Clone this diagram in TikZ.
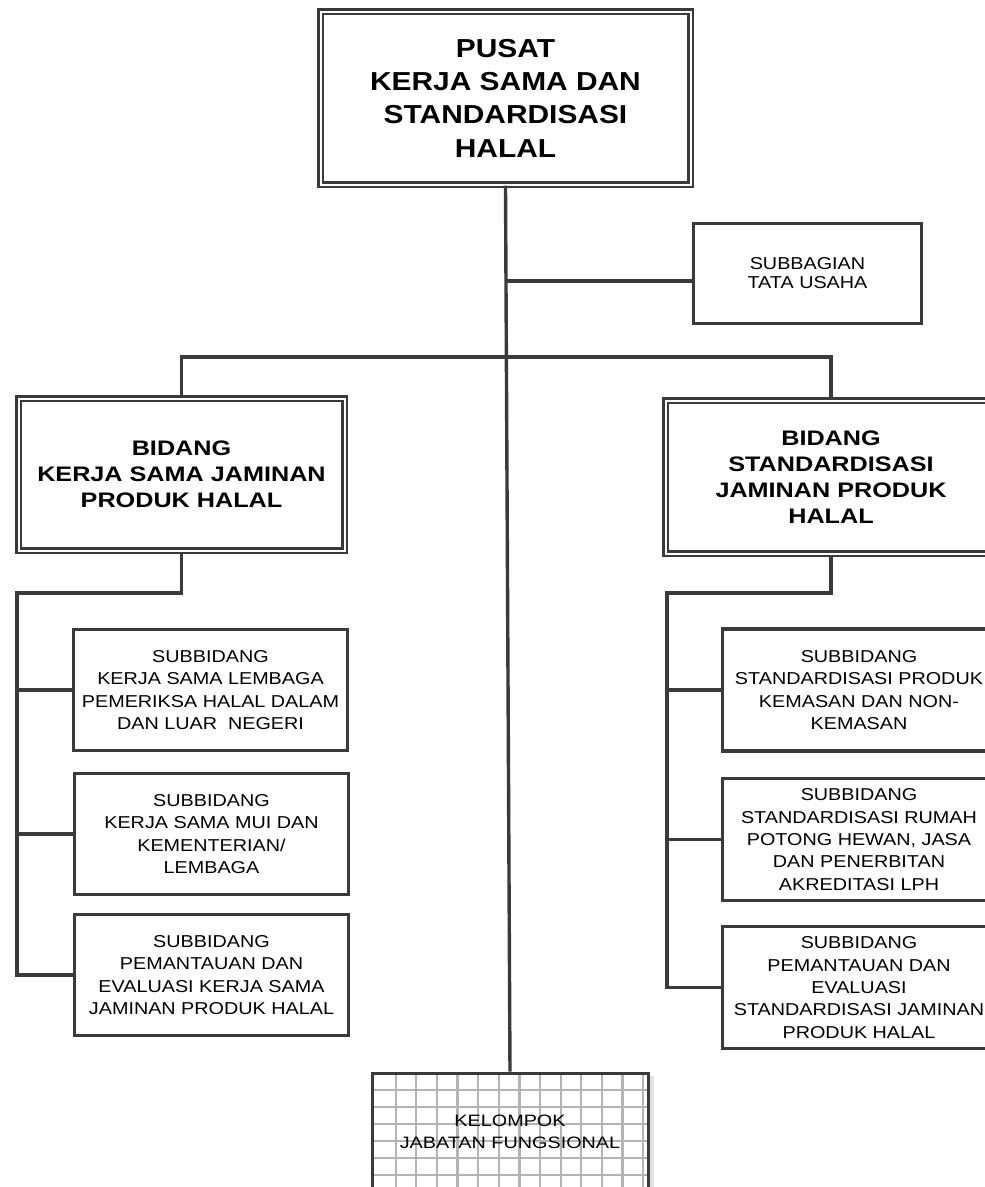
\documentclass[tikz,border=0pt]{standalone}
\usepackage{fontspec}
\setmainfont{Liberation Sans}
\newfontfamily\fA[FakeStretch=1.15]{Liberation Sans}
\newfontfamily\fB[FakeStretch=1.2]{Liberation Sans}
\definecolor{lc}{HTML}{3A3A3A}
\definecolor{gc}{HTML}{B4B4B4}
\definecolor{sc}{HTML}{E2E2E2}
\begin{document}
\begin{tikzpicture}[x=1pt,y=-1pt,
  conn/.style={draw=lc, line width=3.4pt},
  dblbox/.style={draw=lc, double=white, line width=2.4pt, double distance=2pt,
    fill=white, inner sep=0pt, align=center, text=black},
  sbox/.style={draw=lc, line width=3.2pt, fill=white, inner sep=0pt,
    align=center, text=black},
  topfont/.style={font=\fA\bfseries\fontsize{26}{33.3}\selectfont},
  bidfont/.style={font=\fB\bfseries\fontsize{21}{26}\selectfont},
  subfont/.style={font=\fA\fontsize{17.2}{22.3}\selectfont},
  sbgfont/.style={font=\fA\fontsize{17.2}{19}\selectfont},
  kelfont/.style={font=\fB\fontsize{16.5}{21.7}\selectfont},
  subbox/.style={sbox, subfont, minimum width=274pt, minimum height=121pt},
  rsubbox/.style={sbox, subfont, minimum width=273pt, minimum height=122pt}
]
\useasboundingbox (0,0) rectangle (985,1187);
\clip (0,0) rectangle (985,1187);

% nodes
\node[dblbox, topfont, minimum width=370pt, minimum height=173pt] (top) at (505.5,98)
  {PUSAT\\KERJA SAMA DAN\\STANDARDISASI\\HALAL};
\node[sbox, sbgfont, minimum width=228pt, minimum height=100pt] (sbg) at (807.5,273.5)
  {SUBBAGIAN\\TATA USAHA};
\node[dblbox, bidfont, minimum width=326pt, minimum height=152pt] (lb) at (181.5,474.5)
  {BIDANG\\KERJA SAMA JAMINAN\\PRODUK HALAL};
\node[dblbox, bidfont, minimum width=331pt, minimum height=153pt] (rb) at (831,477)
  {BIDANG\\STANDARDISASI\\JAMINAN PRODUK\\HALAL};

\node[subbox] (l1) at (210.5,690)
  {SUBBIDANG\\KERJA SAMA LEMBAGA\\PEMERIKSA HALAL DALAM\\DAN LUAR\ \ NEGERI};
\node[subbox] (l2) at (211.5,834)
  {SUBBIDANG\\KERJA SAMA MUI DAN\\KEMENTERIAN/\\LEMBAGA};
\node[subbox] (l3) at (211.5,975)
  {SUBBIDANG\\PEMANTAUAN DAN\\EVALUASI KERJA SAMA\\JAMINAN PRODUK HALAL};

\node[rsubbox] (r1) at (859,690)
  {SUBBIDANG\\STANDARDISASI PRODUK\\KEMASAN DAN NON-\\KEMASAN};
\node[rsubbox] (r2) at (859,839.5)
  {SUBBIDANG\\STANDARDISASI RUMAH\\POTONG HEWAN, JASA\\DAN PENERBITAN\\AKREDITASI LPH};
\node[rsubbox] (r3) at (859,987.5)
  {SUBBIDANG\\PEMANTAUAN DAN\\EVALUASI\\STANDARDISASI JAMINAN\\PRODUK HALAL};

% grid box (shadow + grid drawn first)
\fill[sc] (648,1076) rectangle (654,1190);
\fill[white] (372,1073) rectangle (648,1190);
\foreach \i in {0,...,12} \draw[gc, line width=2.2pt] (395.7+\i*20.62,1073) -- (395.7+\i*20.62,1190);
\foreach \j in {1,...,6} \draw[gc, line width=2.2pt] (372,1073+\j*17) -- (648,1073+\j*17);
\node[draw=lc, line width=3pt, inner sep=0pt, align=center, kelfont,
  minimum width=276pt, minimum height=117pt] (kel) at (510,1131.5)
  {KELOMPOK\\JABATAN FUNGSIONAL};

% connectors
\coordinate (sbgc) at (693.5,281);
\coordinate (bus) at (0,357);
\coordinate (lsp) at (17,593);
\coordinate (rsp) at (667,593);

\draw[conn] (top.south) -- (kel.north);
\draw[conn] (top.south |- sbgc) -- (sbgc);
\draw[conn] (lb.north) -- (lb.north |- bus) -- (rb.north |- bus) -- (rb.north);

\draw[conn] (lb.south) -- (lb.south |- lsp) -- (lsp) -- (lsp |- l3.west) -- (l3.west);
\draw[conn] (lsp |- l1.west) -- (l1.west);
\draw[conn] (lsp |- l2.west) -- (l2.west);

\draw[conn] (rb.south) -- (rb.south |- rsp) -- (rsp) -- (rsp |- r3.west) -- (r3.west);
\draw[conn] (rsp |- r1.west) -- (r1.west);
\draw[conn] (rsp |- r2.west) -- (r2.west);
\end{tikzpicture}
\end{document}
